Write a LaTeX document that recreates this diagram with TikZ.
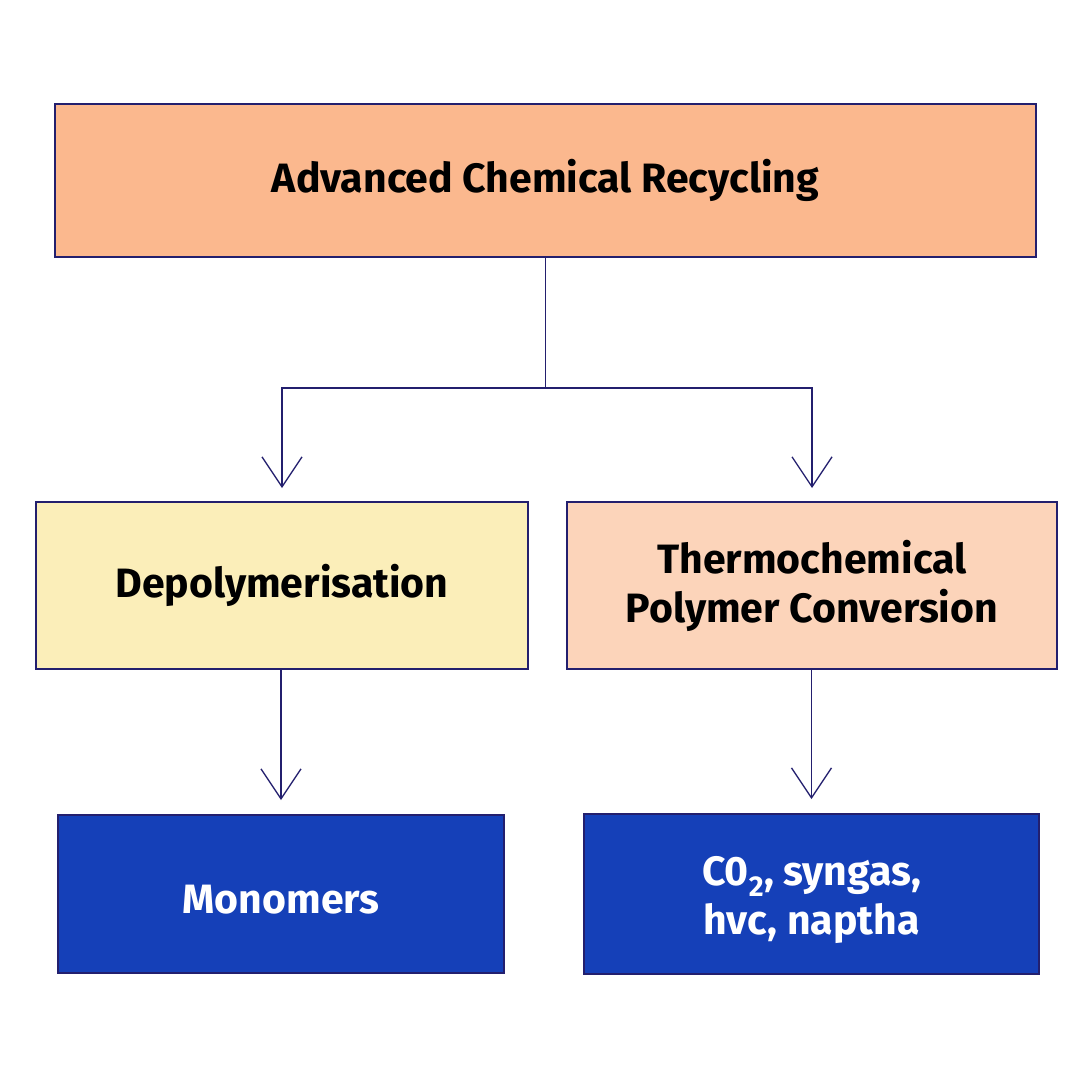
\documentclass[tikz,border=0pt]{standalone}
\usepackage{fontspec}
\setmainfont{Fira Sans}
\usetikzlibrary{arrows.meta}
\definecolor{navy}{RGB}{35,31,110}
\definecolor{peach}{RGB}{251,184,142}
\definecolor{cream}{RGB}{251,238,185}
\definecolor{blush}{RGB}{252,212,186}
\definecolor{royal}{RGB}{21,64,184}
\newcommand{\lowered}[1]{\raisebox{-6pt}[\height][\depth]{#1}}
\begin{document}
\begin{tikzpicture}[x=1pt, y=-1pt]
    % boxes
    \tikzstyle{box}=[draw=navy, line width=1.2pt, inner sep=0, outer sep=0, align=center, font=\fontsize{41}{49}\selectfont\bfseries]
    \tikzstyle{product}=[box, fill=royal, text=white]
    % connectors
    \tikzstyle{arr}=[draw=navy, line width=1.3pt, -{Straight Barb[length=30pt, width=40pt]}]
    \useasboundingbox[fill=white] (0,0) rectangle (1080,1080);
    % top level
    \node[box, fill=peach, minimum width=981pt, minimum height=153pt] (acr) at (545.5,180.5) {Advanced Chemical Recycling};
    % two routes
    \node[box, fill=cream, minimum width=492pt, minimum height=167pt] (depol) at (282,585.5) {Depolymerisation};
    \node[box, fill=blush, minimum width=490pt, minimum height=167pt] (thermo) at (812,585.5) {Thermochemical\\Polymer Conversion};
    % products
    \node[product, minimum width=446pt, minimum height=158pt] (mono) at (281,894) {\lowered{Monomers}};
    \node[product, minimum width=455pt, minimum height=160pt] (gas) at (811.5,894) {\lowered{C0\textsubscript{2}, syngas,}\\\lowered{hvc, naptha}};
    \coordinate (fork) at (acr.south |- 0,388);
    \draw[draw=navy, line width=1.3pt] (acr.south) -- (fork);
    \draw[arr, shorten >=14pt] (fork) -| (depol.north);
    \draw[arr, shorten >=14pt] (fork) -| (thermo.north);
    \draw[arr, shorten >=15pt] (mono.north |- depol.south) -- (mono.north);
    \draw[arr, shorten >=15pt] (gas.north |- thermo.south) -- (gas.north);
\end{tikzpicture}
\end{document}
